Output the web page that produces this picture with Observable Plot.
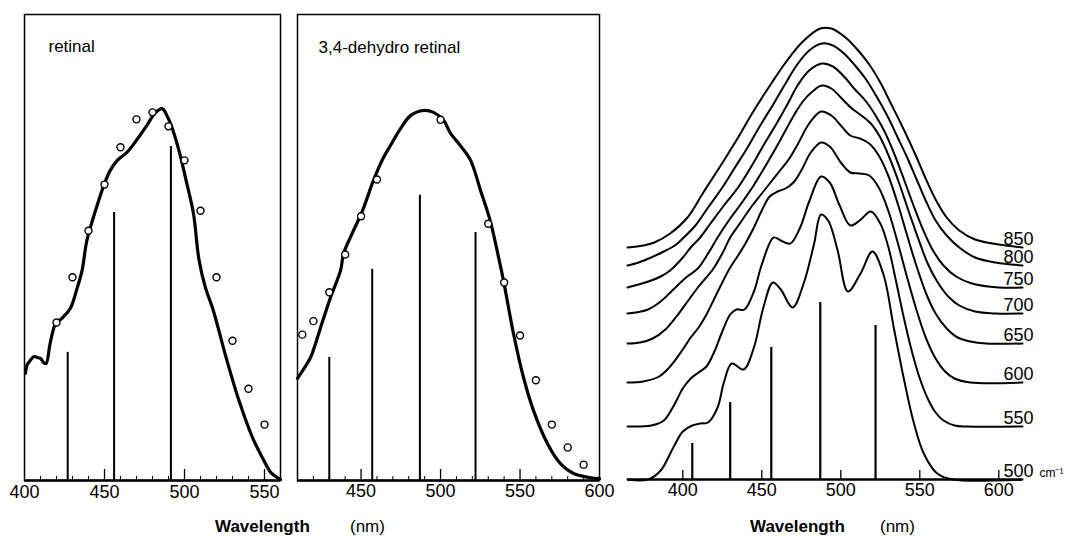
<!DOCTYPE html>
<html><head><meta charset="utf-8">
<script src="https://cdn.jsdelivr.net/npm/d3@7"></script>
<script src="https://cdn.jsdelivr.net/npm/@observablehq/plot@0.6"></script>
<style>
body{margin:0;background:#fff;}
#root{position:relative;width:1065px;height:536px;overflow:hidden;font-family:"Liberation Sans",Arial,sans-serif;color:#000;background:#fff;}
#root svg{position:absolute;top:0;}
.xl{position:absolute;top:518px;font-size:17px;line-height:17px;white-space:nowrap;}
.b{font-weight:bold;}
</style></head><body><div id="root"></div>
<script>
// ---------- Panel 1: retinal ----------
const retinalNm = [400.6,401.5,403.7,406,408,410,412,413.5,416,419,421.5,424,428.6,433,436,439,445,450,453.5,458,464,470,476.5,481.5,486,489.6,492.8,497,501,505.6,509,513,518,526,534,542.5,548.7,554,559,560];
const retinalAbs = [0.230,0.247,0.258,0.266,0.264,0.262,0.253,0.251,0.294,0.333,0.343,0.350,0.369,0.414,0.451,0.515,0.586,0.637,0.665,0.687,0.704,0.730,0.762,0.788,0.798,0.779,0.751,0.702,0.644,0.573,0.475,0.415,0.365,0.264,0.172,0.092,0.049,0.017,0.004,0.002];
const retinalDotNm = [420,430,440,450,460,470,480,490,500,510,520,530,540,550];
const retinalDotAbs = [0.339,0.436,0.536,0.635,0.715,0.775,0.790,0.760,0.687,0.579,0.436,0.300,0.197,0.120];
const retinalStickNm = [427,456,491.5];
const retinalStickAbs = [0.275,0.575,0.717];

// ---------- Panel 2: 3,4-dehydro retinal ----------
const dehydroNm = [410,418.2,420.3,424.5,430.8,437.1,439,445.2,450.9,457.8,464.1,468.5,474.8,481.1,489.3,495.6,501.9,506.3,512.6,518.9,525.2,531.5,536.5,539.6,545.9,552.2,558.5,567.3,575.5,583.7,594.4,600];
const dehydroAbs = [0.219,0.264,0.283,0.328,0.393,0.451,0.487,0.536,0.579,0.644,0.693,0.719,0.755,0.783,0.794,0.790,0.773,0.745,0.718,0.687,0.622,0.554,0.479,0.429,0.315,0.221,0.150,0.079,0.036,0.015,0.006,0.004];
const dehydroDotNm = [413,420,430,440,450,460,500,530,540,550,560,570,580,590];
const dehydroDotAbs = [0.313,0.342,0.404,0.485,0.567,0.646,0.774,0.551,0.425,0.311,0.215,0.120,0.071,0.034];
const dehydroStickNm = [430,457,487,522];
const dehydroStickAbs = [0.264,0.453,0.612,0.532];

// ---------- Panel 3: simulated bands for several widths ----------
const bandWidths = [500,550,600,650,700,750,800,850];
const bandOffsets = [0,0.53,0.97,1.36,1.66,1.92,2.14,2.32];
const band500 = [[365,0],[378,0],[386,.09],[394,.32],[400,.48],[406,.54],[411,.56],[416,.57],[422,.72],[426,.97],[431,1.16],[438.5,1.10],[445,1.32],[451,1.72],[457,1.97],[462,1.90],[469.5,1.72],[476.5,1.96],[483,2.35],[487.5,2.65],[492,2.59],[498,2.29],[504.5,1.88],[512.5,2.06],[520,2.28],[527,2.05],[533.5,1.52],[540,1.00],[546,.58],[552.5,.26],[561,.06],[571,0],[615,0]];
const band550 = [[365,0],[380,.01],[388,.06],[394,.20],[400,.38],[405,.48],[410,.54],[415,.60],[420,.75],[425,.95],[430,1.12],[434,1.17],[439,1.17],[445,1.35],[450,1.62],[457.5,1.89],[462,1.86],[468,1.83],[474,1.98],[480,2.25],[487.5,2.50],[493,2.44],[499,2.22],[506,2.01],[512,2.06],[519,2.15],[525,2.03],[530,1.80],[535,1.45],[540,1.08],[545,.75],[550,.48],[555,.28],[560,.14],[565,.06],[572,.01],[580,0],[615,0]];
const band600 = [[365,0],[375,.01],[385,.06],[392,.16],[400,.33],[405,.45],[410,.55],[415,.68],[420,.84],[425,1.00],[430,1.15],[435,1.27],[440,1.40],[445,1.55],[450,1.72],[455,1.86],[460,1.91],[465,1.94],[470,2.00],[475,2.12],[481,2.30],[487.5,2.40],[493,2.36],[500,2.20],[506,2.10],[512,2.09],[518,2.07],[524,1.95],[530,1.72],[536,1.40],[542,1.05],[548,.72],[554,.44],[560,.24],[566,.11],[572,.04],[582,0],[615,0]];
const band650 = [[365,0],[373,.01],[381,.05],[389,.14],[396,.27],[403,.42],[410,.57],[419,.74],[425,.90],[430,1.06],[437,1.22],[444,1.38],[450,1.50],[455,1.60],[461,1.72],[467,1.84],[473,2.00],[480,2.20],[487.5,2.32],[494,2.28],[500,2.18],[506,2.08],[512,2.05],[518,2.00],[524,1.88],[530,1.68],[536,1.40],[542,1.08],[548,.77],[554,.50],[560,.30],[567,.15],[574,.06],[582,.02],[592,0],[615,0]];
const band700 = [[365,0],[370,.01],[378,.04],[386,.12],[394,.24],[402,.36],[409.5,.45],[416,.60],[422,.76],[430,.95],[437,1.10],[444,1.26],[451,1.44],[458,1.63],[465,1.83],[471,2.00],[476,2.12],[482,2.22],[488,2.28],[494,2.25],[500,2.16],[507,2.05],[513,1.98],[519,1.90],[525,1.76],[531,1.55],[537,1.30],[543,1.02],[549,.75],[555,.50],[561,.32],[568,.17],[575,.08],[585,.02],[598,0],[615,0]];
const band750 = [[365,0],[372,.03],[380,.07],[386,.11],[392,.17],[400,.30],[405,.40],[411,.50],[418,.65],[427,.84],[435,1.00],[443,1.20],[451,1.42],[459,1.63],[466.5,1.84],[473,2.03],[480,2.17],[488,2.24],[495,2.21],[502,2.11],[509,1.98],[516,1.86],[522,1.72],[528,1.55],[534,1.33],[540,1.08],[546,.82],[552,.58],[558,.38],[565,.22],[573,.11],[583,.04],[600,0],[615,0]];
const band800 = [[365,0],[372,.03],[380,.08],[388,.14],[395,.20],[400.6,.28],[408,.40],[416,.58],[425,.78],[433,.98],[441,1.18],[449,1.40],[457.6,1.62],[465,1.82],[472,2.00],[480,2.15],[488,2.22],[495,2.20],[502,2.12],[509,2.00],[516,1.86],[523,1.68],[530,1.48],[536,1.28],[542,1.08],[548,.86],[554,.64],[560,.45],[567,.30],[575,.18],[585,.08],[598,.03],[615,0]];
const band850 = [[365,0],[375,.02],[382,.05],[392,.14],[403,.30],[413,.55],[424,.82],[435,1.10],[445,1.37],[456,1.64],[466,1.87],[476,2.06],[487,2.19],[494,2.19],[503,2.10],[511,1.97],[518,1.83],[525,1.65],[532,1.43],[538,1.24],[544,1.04],[548,.90],[554,.68],[560,.48],[567,.30],[575,.17],[585,.08],[600,.03],[615,0]];
const bandStickNm = [406,430,456,487,522];
const bandStickAbs = [0.36,0.77,1.32,1.77,1.54];

const ticks12 = [400,450,500,550,600];
const minor12 = d3.range(400,601,10);

// ---------- drawing ----------
const root = document.getElementById("root");
const FONT = '"Liberation Sans", Arial, sans-serif';

function framedPanel(o){
  const curve = o.nm.map((x,i)=>({x, y:o.abs[i]}));
  const dots = o.dotNm.map((x,i)=>({x, y:o.dotAbs[i]}));
  const sticks = o.stickNm.map((x,i)=>({x, y:o.stickAbs[i]}));
  const [lo,hi] = o.domain;
  const majors = ticks12.filter(t=>t>lo && t<hi);
  const minors = minor12.filter(t=>t>lo && t<hi && t%50!==0);
  const svg = Plot.plot({
    width:o.width, height:536, marginLeft:o.mL, marginRight:o.mR, marginTop:14, marginBottom:56,
    x:{domain:o.domain}, y:{domain:[0,1], axis:null},
    style:{fontFamily:FONT, fontSize:"18px", color:"#000", background:"transparent", overflow:"visible"},
    marks:[
      Plot.frame({strokeWidth:1.5}),
      Plot.ruleY([0],{strokeWidth:2.5}),
      Plot.ruleX(minors,{insetTop:462, strokeWidth:1}),
      Plot.ruleX(majors,{insetTop:455, strokeWidth:1.3}),
      Plot.ruleX(sticks,{x:"x", y1:0, y2:"y", strokeWidth:2}),
      Plot.line(curve,{x:"x", y:"y", strokeWidth:3.2, curve:"catmull-rom"}),
      Plot.dot(dots,{x:"x", y:"y", r:3.5, fill:"white", stroke:"black", strokeWidth:1.4}),
      Plot.text([o.label],{frameAnchor:"top-left", dx:o.tdx, dy:o.tdy, fontSize:17, lineAnchor:"top", textAnchor:"start", fill:"black"}),
      Plot.axisX(o.labels,{tickSize:0, tickPadding:o.pad, fontSize:18, label:null})
    ]
  });
  svg.style.left = o.left + "px";
  root.appendChild(svg);
}

framedPanel({left:0, width:290, mL:24, mR:10, domain:[400,560], nm:retinalNm, abs:retinalAbs,
  dotNm:retinalDotNm, dotAbs:retinalDotAbs, stickNm:retinalStickNm, stickAbs:retinalStickAbs,
  label:"retinal", tdx:24, tdy:25, labels:[400,450,500,550], pad:5});
framedPanel({left:290, width:320, mL:7, mR:11, domain:[410,600], nm:dehydroNm, abs:dehydroAbs,
  dotNm:dehydroDotNm, dotAbs:dehydroDotAbs, stickNm:dehydroStickNm, stickAbs:dehydroStickAbs,
  label:"3,4-dehydro retinal", tdx:21, tdy:26, labels:[450,500,550,600], pad:4});

// panel 3
const bands = [band500,band550,band600,band650,band700,band750,band800,band850];
const bandRows = bands.flatMap((b,k)=>b.map(([x,a])=>({x, y:a+bandOffsets[k], w:bandWidths[k]})));
const bandLabels = bands.map((b,k)=>({x:b[b.length-1][0], y:bandOffsets[k], t:String(bandWidths[k])}));
const sticks3 = bandStickNm.map((x,i)=>({x, y:bandStickAbs[i]}));
const svg3 = Plot.plot({
  width:455, height:536, marginLeft:17, marginRight:43, marginTop:0, marginBottom:57,
  x:{domain:[365,615]}, y:{domain:[0,4.79], axis:null},
  style:{fontFamily:FONT, fontSize:"18px", color:"#000", background:"transparent", overflow:"visible"},
  marks:[
    Plot.ruleY([0],{strokeWidth:2.5}),
    Plot.ruleX(ticks12,{insetTop:470, strokeWidth:1.3}),
    Plot.ruleX(sticks3,{x:"x", y1:0, y2:"y", strokeWidth:2.2}),
    Plot.line(bandRows,{x:"x", y:"y", z:"w", strokeWidth:2, curve:"catmull-rom"}),
    Plot.text(bandLabels,{x:"x", y:"y", text:"t", dx:-4, dy:-3, lineAnchor:"bottom", textAnchor:"middle", fontSize:18}),
    Plot.text([bandLabels[0]],{x:"x", y:"y", text:()=>"cm\u207B\u00B9", dx:17, dy:-3, lineAnchor:"bottom", textAnchor:"start", fontSize:12}),
    Plot.axisX(ticks12,{tickSize:0, tickPadding:4, fontSize:18, label:null})
  ]
});
svg3.style.left = "610px";
root.appendChild(svg3);

// axis titles
function addLabel(text, left, bold){
  const d = document.createElement("div");
  d.className = "xl" + (bold ? " b" : "");
  d.style.left = left + "px";
  d.textContent = text;
  root.appendChild(d);
}
addLabel("Wavelength", 215, true); addLabel("(nm)", 350, false);
addLabel("Wavelength", 750, true); addLabel("(nm)", 880, false);
</script></body></html>
